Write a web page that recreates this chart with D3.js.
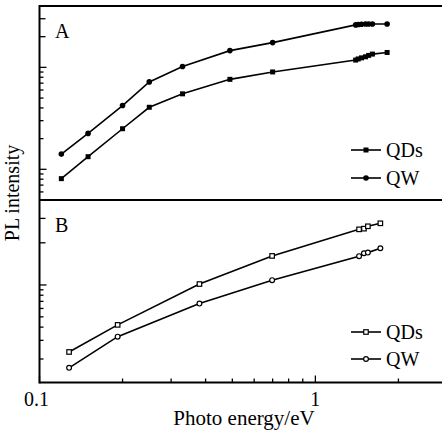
<!DOCTYPE html>
<meta charset="utf-8">
<style>
body { margin: 0; background: #fff; }
text { font-family: "Liberation Serif", "Times New Roman", serif; fill: #000; }
.line { fill: none; stroke: #000; stroke-width: 1.6px; }
.frame { stroke: #000; stroke-width: 1.8px; fill: none; }
</style>
<div id="chart"></div>
<script src="https://d3js.org/d3.v7.min.js"></script>
<script>

// panel A (filled markers)
var energyA = [0.12, 0.15, 0.2, 0.25, 0.33, 0.49, 0.7, 1.40, 1.43, 1.47, 1.52, 1.56, 1.61, 1.82];
var qdsA = [0.81, 1.33, 2.5, 4.06, 5.5, 7.63, 9.02, 11.8, 12.1, 12.4, 12.7, 13.1, 13.5, 14.0];
var qwA = [1.41, 2.25, 4.22, 7.2, 10.2, 14.6, 17.5, 26.1, 26.3, 26.5, 26.6, 26.6, 26.6, 26.6];

// panel B (open markers)
var energyB = [0.128, 0.192, 0.38, 0.697, 1.44, 1.50, 1.55, 1.72];
var qdsB = [0.233, 0.42, 1.02, 1.88, 3.35, 3.40, 3.58, 3.82];
var qwB = [0.165, 0.325, 0.667, 1.11, 1.87, 1.99, 2.02, 2.22];

var seriesNames = ["QDs", "QW"];
var xTicksMajor = [0.1, 1];
var xTicksMinor = [0.2, 0.3, 0.4, 0.5, 0.6, 0.7, 0.8, 0.9, 2];
var yTicksA = {major: [1, 10], upper: [20, 30], minor: [0.5, 0.6, 0.7, 0.8, 0.9, 2, 3, 4, 5, 6, 7, 8, 9]};
var yTicksB = {major: [1], upper: [2.5, 4.25], minor: [0.2, 0.3, 0.4, 0.5, 0.6, 0.7, 0.8, 0.9]};

var width = 442, height = 433;
var plotLeft = 39.5, plotTop = 6, plotMid = 200, plotBottom = 382.5;
var serif = "'Liberation Serif', 'Times New Roman', serif";

var svg = d3.select("#chart").append("svg")
    .attr("width", width)
    .attr("height", height);

var x = d3.scaleLog().domain([0.1, 3]).range([plotLeft, 447]);
var yA = d3.scaleLog().domain([0.5, 40]).range([plotMid, plotTop]);
var yB = d3.scaleLog().domain([0.12, 6.34]).range([plotBottom, plotMid]);

// frame
[plotTop, plotMid, plotBottom].forEach(function(yy) {
  svg.append("line").attr("class", "frame")
      .attr("x1", plotLeft).attr("x2", width).attr("y1", yy).attr("y2", yy);
});
svg.append("line").attr("class", "frame").style("stroke-width", "2px")
    .attr("x1", plotLeft).attr("x2", plotLeft).attr("y1", plotTop - 1).attr("y2", plotBottom + 1);

// y ticks (inside)
function yTicks(y, t) {
  var g = svg.append("g");
  [[t.major, 7], [t.upper, 6], [t.minor, 4]].forEach(function(p) {
    g.selectAll(null).data(p[0]).enter().append("line")
        .attr("x1", plotLeft).attr("x2", plotLeft + p[1])
        .attr("y1", function(d) { return y(d); })
        .attr("y2", function(d) { return y(d); })
        .attr("stroke", "#000").attr("stroke-width", 1.3);
  });
}
yTicks(yA, yTicksA);
yTicks(yB, yTicksB);

// x ticks (inside, pointing up)
var gx = svg.append("g");
[[xTicksMajor, 7], [xTicksMinor, 4]].forEach(function(p) {
  gx.selectAll(null).data(p[0]).enter().append("line")
      .attr("x1", function(d) { return x(d); })
      .attr("x2", function(d) { return x(d); })
      .attr("y1", plotBottom).attr("y2", plotBottom - p[1])
      .attr("stroke", "#000").attr("stroke-width", 1.3);
});
gx.selectAll(null).data(xTicksMajor).enter().append("text")
    .attr("x", function(d) { return x(d) - (d < 1 ? 3 : 0); })
    .attr("y", 406)
    .attr("text-anchor", "middle")
    .attr("font-family", serif)
    .style("font-size", "20px")
    .text(function(d) { return d; });

svg.append("text")
    .attr("x", 244).attr("y", 425)
    .attr("text-anchor", "middle")
    .attr("font-family", serif)
    .style("font-size", "21px")
    .text("Photo energy/eV");

svg.append("text")
    .attr("transform", "translate(19,193) rotate(-90)")
    .attr("text-anchor", "middle")
    .attr("font-family", serif)
    .style("font-size", "20px")
    .text("PL intensity");

svg.append("text").attr("x", 55).attr("y", 38).attr("font-family", serif).style("font-size", "20px").text("A");
svg.append("text").attr("x", 55).attr("y", 232).attr("font-family", serif).style("font-size", "20px").text("B");

function drawSeries(energy, vals, y, shape, filled) {
  var pts = energy.map(function(e, i) { return [x(e), y(vals[i])]; });
  svg.append("path").attr("class", "line").attr("d", d3.line()(pts));
  drawMarkers(pts, shape, filled);
}

function drawMarkers(pts, shape, filled) {
  var g = svg.append("g");
  if (shape === "square") {
    var s = filled ? 5 : 4.5;
    g.selectAll(null).data(pts).enter().append("rect")
        .attr("x", function(d) { return d[0] - s / 2; })
        .attr("y", function(d) { return d[1] - s / 2; })
        .attr("width", s).attr("height", s)
        .attr("fill", filled ? "#000" : "#fff")
        .attr("stroke", "#000").attr("stroke-width", filled ? 0 : 1.2);
  } else {
    g.selectAll(null).data(pts).enter().append("circle")
        .attr("cx", function(d) { return d[0]; })
        .attr("cy", function(d) { return d[1]; })
        .attr("r", filled ? 2.8 : 2.4)
        .attr("fill", filled ? "#000" : "#fff")
        .attr("stroke", "#000").attr("stroke-width", filled ? 0 : 1.2);
  }
}

drawSeries(energyA, qdsA, yA, "square", true);
drawSeries(energyA, qwA, yA, "circle", true);
drawSeries(energyB, qdsB, yB, "square", false);
drawSeries(energyB, qwB, yB, "circle", false);

// legends
function legend(ys, filled) {
  seriesNames.forEach(function(name, i) {
    var yy = ys[i];
    svg.append("line").attr("class", "line")
        .attr("x1", 351).attr("x2", 381).attr("y1", yy).attr("y2", yy);
    drawMarkers([[366, yy]], i === 0 ? "square" : "circle", filled);
    svg.append("text").attr("x", 386).attr("y", yy + 7)
        .attr("font-family", serif)
        .style("font-size", "20px").text(name);
  });
}
legend([150, 178], true);
legend([332, 359], false);

</script>
